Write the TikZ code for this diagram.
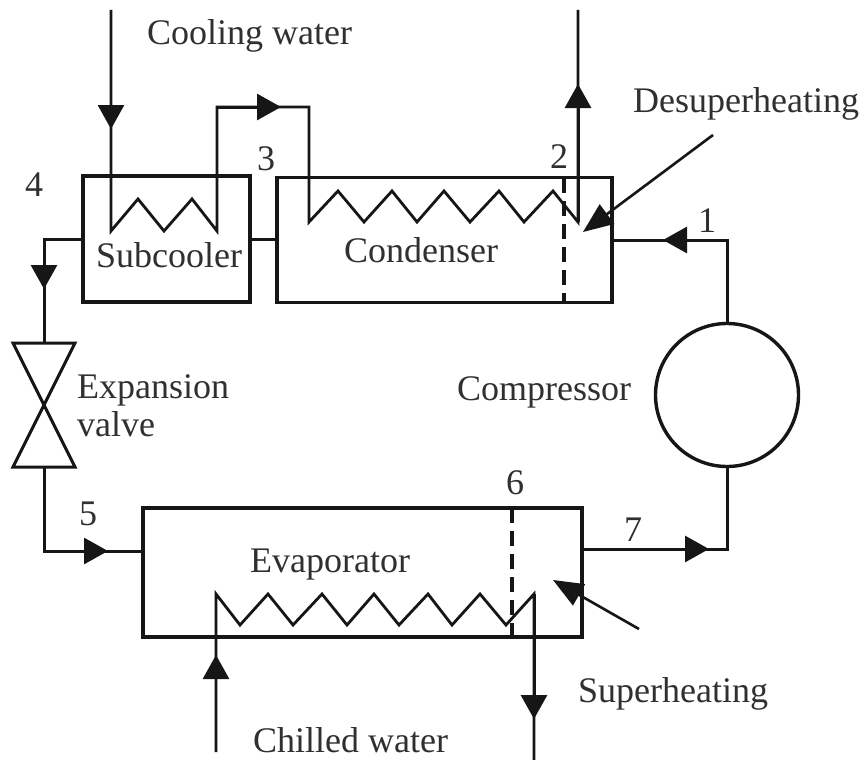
\documentclass[tikz,border=0pt]{standalone}
\usepackage{fontspec}
\setmainfont{Liberation Serif}
\usetikzlibrary{arrows.meta,positioning}
\definecolor{vtext}{HTML}{303030}
\definecolor{vline}{HTML}{161616}
\begin{document}
\begin{tikzpicture}[
  x=1pt,y=-1pt,
  unit/.style={draw=vline,line width=3.4pt,inner sep=0pt,outer sep=0pt},
  txt/.style={anchor=base west,inner sep=0pt,text=vtext,font=\fontsize{36}{40}\selectfont,align=left},
  pipe/.style={draw=vline,line width=3pt,line join=miter},
  coil/.style={draw=vline,line width=2.8pt,line join=miter},
  divider/.style={draw=vline,line width=4pt,dash pattern=on 15pt off 8pt},
  flow/.style={draw=vline,line width=3pt,-{Triangle[length=24pt,width=26pt]}},
  leader/.style={draw=vline,line width=2.6pt,-{Triangle[length=30pt,width=24pt]}}]
\useasboundingbox (0,0) rectangle (862,760);
\fill[white] (0,0) rectangle (862,760);
% equipment
\node[unit,minimum width=167pt,minimum height=126pt] (subcooler) at (166.5,239) {};
\node[unit,minimum width=335pt,minimum height=125pt] (condenser) at (444.5,240) {};
\node[unit,minimum width=439pt,minimum height=129pt] (evaporator) at (362.5,572.5) {};
\node[unit,circle,minimum size=143pt] (compressor) at (727,395) {};
% valve
\coordinate (valvetop) at (44,343);
\coordinate (valvemid) at (44,405);
\coordinate (valvebot) at (44,467);
\draw[pipe] (13,343) -- (75,343) -- (valvemid) -- (13,343) -- cycle;
\draw[pipe] (13,467) -- (75,467) -- (valvemid) -- (13,467) -- cycle;
% texts
\node[txt] (coolingtxt) at (147,45) {Cooling water};
\node[txt] (subcoolertxt) at (96,267) {Subcooler};
\node[txt] (condensertxt) at (344,262) {Condenser};
\node[txt] (desupertxt) at (633,112) {Desuperheating};
\node[txt] (compressortxt) at (457,400) {Compressor};
\node[txt] (expansiontxt) at (77,398) {Expansion};
\node[txt] (valvetxt) at (77,436) {valve};
\node[txt] (evaporatortxt) at (250,572) {Evaporator};
\node[txt] (supertxt) at (578,702) {Superheating};
\node[txt] (chilledtxt) at (253,752) {Chilled water};
\node[txt] (pointa) at (698,232) {1};
\node[txt] (pointb) at (550,168) {2};
\node[txt] (pointc) at (257,170) {3};
\node[txt] (pointd) at (25,196) {4};
\node[txt] (pointe) at (79,525) {5};
\node[txt] (pointf) at (506,494) {6};
\node[txt] (pointg) at (624,541) {7};
% refrigerant side
\coordinate (condin) at (condenser.east);
\coordinate (elbowa) at (727,240);
\coordinate (tipa) at (663,240);
\draw[pipe] (compressor.north) -- (elbowa) -- (condin);
\draw[flow] (elbowa) -- (tipa);
\draw[pipe] (subcooler.east) -- (subcooler.east -| condenser.west);
\coordinate (elbowb) at (44,239);
\coordinate (tipb) at (44,289);
\draw[pipe] (subcooler.west) -- (elbowb) -- (valvetop);
\draw[flow] (elbowb) -- (tipb);
\coordinate (elbowc) at (44,551);
\coordinate (evapin) at (143,551);
\coordinate (tipc) at (108,551);
\draw[pipe] (valvebot) -- (elbowc) -- (evapin);
\draw[flow] (elbowc) -- (tipc);
\coordinate (evapout) at (583,549);
\coordinate (elbowd) at (727,549);
\coordinate (tipd) at (709,549);
\draw[pipe] (compressor.south) -- (elbowd) -- (evapout);
\draw[flow] (evapout) -- (tipd);
% dividers
\draw[divider] (564,178) -- (564,303);
\draw[divider] (512,508) -- (512,637);
% water side
\coordinate (coolin) at (111,10);
\coordinate (tipe) at (111,129);
\draw[coil] (coolin) -- (111,231) -- (138,199) -- (164,231) -- (192,199) -- (217,231)
  -- (217,107) -- (309,107) -- (309,222) -- (338,191) -- (364,222) -- (392,191)
  -- (417,222) -- (444,191) -- (470,222) -- (499,191) -- (524,222) -- (553,191)
  -- (578,222) -- (578,10);
\draw[flow,line width=2.8pt] (coolin) -- (tipe);
\coordinate (tipf) at (281,107);
\draw[flow] (217,107) -- (tipf);
\coordinate (coolout) at (578,222);
\coordinate (tipg) at (578,84);
\draw[flow] (coolout) -- (tipg);
\coordinate (chillin) at (216,752);
\coordinate (chillout) at (534,760);
\coordinate (tiph) at (216,655);
\coordinate (tipi) at (534,719);
\draw[coil] (chillin) -- (216,594) -- (240,625) -- (268,594) -- (293,625) -- (322,594)
  -- (347,625) -- (374,594) -- (399,625) -- (428,594) -- (452,625) -- (480,594)
  -- (506,625) -- (534,594) -- (chillout);
\draw[flow,line width=2.8pt] (chillin) -- (tiph);
\draw[flow] (534,594) -- (tipi);
% leaders
\coordinate (desuperfrom) at (713,135);
\coordinate (desuperto) at (583,232);
\coordinate (superfrom) at (639,629);
\coordinate (superto) at (553,580);
\draw[leader] (desuperfrom) -- (desuperto);
\draw[leader] (superfrom) -- (superto);
\end{tikzpicture}
\end{document}
